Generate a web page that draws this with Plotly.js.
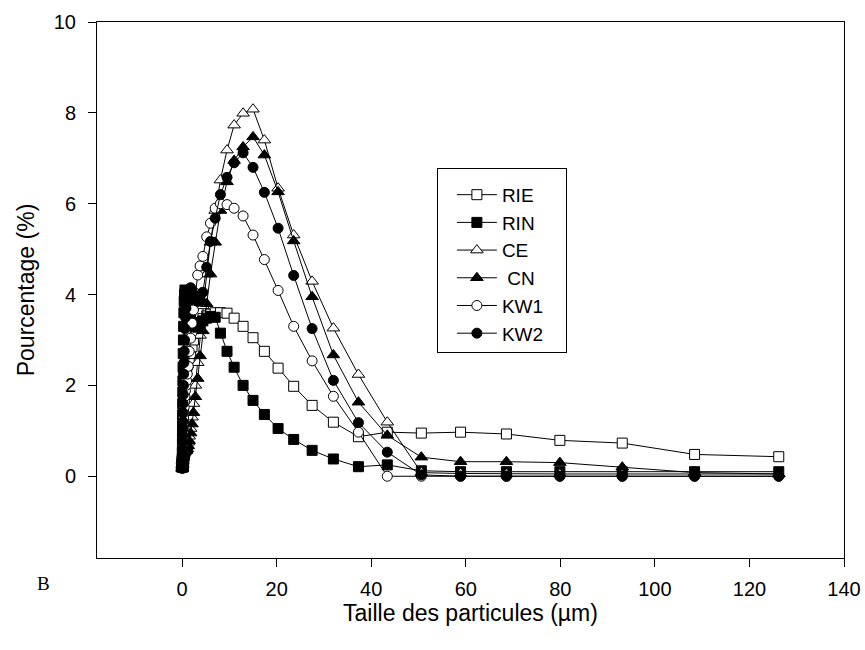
<!DOCTYPE html>
<html>
<head>
<meta charset="utf-8">
<script src="https://cdn.plot.ly/plotly-3.0.1.min.js"></script>
<style>html,body{margin:0;padding:0;background:#fff;}#chart{width:865px;height:650px;}</style>
</head>
<body>
<div id="chart"></div>
<script>
// Particle size bins (µm)
const sizes = [0.04,0.05,0.06,0.07,0.08,0.09,0.11,0.13,0.15,0.17,0.2,0.24,0.28,0.32,0.38,0.44,0.51,0.6,0.7,0.81,0.95,
  1.1,1.3,1.5,1.8,2.1,2.4,2.8,3.3,3.8,4.4,5.2,6.0,7.0,8.1,9.5,11.0,12.9,15.0,17.4,20.3,23.6,27.5,32.0,37.3,43.4,
  50.6,58.9,68.6,79.9,93.1,108.4,126.2];

const RIE = [0.2,0.3,0.4,0.5,0.6,0.7,0.8,0.9,1.0,1.1,1.25,1.4,1.55,1.7,1.85,2.0,2.1,2.2,2.3,2.35,2.4,
  2.45,2.5,2.6,2.7,2.85,3.0,3.15,3.28,3.38,3.47,3.53,3.57,3.6,3.6,3.59,3.48,3.3,3.05,2.75,2.38,1.98,1.56,1.19,0.87,0.97,
  0.95,0.97,0.93,0.79,0.73,0.48,0.43];

const RIN = [0.2,0.35,0.5,0.7,0.9,1.1,1.35,1.6,1.85,2.1,2.4,2.7,3.0,3.3,3.6,3.85,4.0,4.1,4.05,3.95,3.85,
  3.75,3.65,3.55,3.45,3.38,3.33,3.3,3.3,3.35,3.42,3.48,3.52,3.5,3.15,2.75,2.4,2.0,1.67,1.36,1.05,0.81,0.57,0.38,0.21,0.25,
  0.12,0.1,0.1,0.1,0.1,0.1,0.1];

const CE = [0.18,0.2,0.22,0.25,0.28,0.31,0.34,0.37,0.4,0.43,0.46,0.49,0.52,0.55,0.58,0.6,0.62,0.63,0.64,0.64,0.65,
  0.68,0.75,0.88,1.05,1.3,1.6,2.0,2.5,3.1,3.75,4.45,5.15,5.85,6.52,7.18,7.73,7.99,8.08,7.4,6.34,5.31,4.29,3.26,2.24,1.19,
  0.08,0.06,0.05,0.05,0.05,0.05,0.05];

const CN = [0.16,0.18,0.2,0.22,0.25,0.28,0.31,0.34,0.37,0.4,0.42,0.44,0.46,0.48,0.5,0.52,0.53,0.54,0.55,0.56,0.57,
  0.6,0.67,0.78,0.95,1.15,1.4,1.75,2.15,2.65,3.2,3.8,4.45,5.15,5.85,6.48,6.95,7.25,7.47,7.07,6.26,5.18,3.95,2.67,1.63,0.9,
  0.42,0.32,0.32,0.3,0.2,0.08,0.05];

const KW1 = [0.2,0.25,0.3,0.36,0.42,0.5,0.58,0.67,0.76,0.86,0.96,1.06,1.17,1.28,1.4,1.52,1.64,1.76,1.88,2.0,2.1,
  2.25,2.42,2.75,3.04,3.37,3.66,4.03,4.43,4.63,4.84,5.27,5.57,5.9,6.0,5.98,5.9,5.73,5.31,4.77,4.09,3.3,2.54,1.76,0.97,0.0,
  0.0,0.0,0.0,0.0,0.0,0.0,0.0];

const KW2 = [0.17,0.25,0.35,0.47,0.6,0.75,0.9,1.05,1.2,1.4,1.6,1.8,2.0,2.25,2.5,2.75,3.0,3.25,3.5,3.7,3.85,
  3.97,4.05,4.12,4.15,4.1,4.0,3.9,3.85,3.9,4.05,4.6,5.17,5.68,6.2,6.58,6.9,7.12,6.8,6.25,5.46,4.42,3.25,2.11,1.18,0.53,
  0.03,0.0,0.0,0.0,0.0,0.0,0.0];

const seriesNames = ['RIE\u00a0\u00a0\u00a0\u00a0\u00a0','RIN','CE',' CN','KW1','KW2'];
const seriesData = [RIE, RIN, CE, CN, KW1, KW2];
const symbols = ['square','square','triangle-up','triangle-up','circle','circle'];
const fills = ['white','black','white','black','white','black'];

const xTicks = [0,20,40,60,80,100,120,140];
const yTicks = [0,2,4,6,8,10];

const traces = seriesData.map((ys, i) => ({
  type: 'scatter',
  mode: 'lines+markers',
  x: sizes,
  y: ys,
  name: seriesNames[i],
  legendgroup: 'g' + i,
  line: {color: 'black', width: 1},
  marker: {symbol: symbols[i], size: symbols[i]==='triangle-up' ? 11 : 10, color: fills[i], line: {color: 'black', width: 1}}
}));

const fontFam = '"Liberation Sans", Arial, sans-serif';

const layout = {
  width: 865, height: 650,
  margin: {l: 97, r: 21, t: 22, b: 92},
  paper_bgcolor: 'white', plot_bgcolor: 'white',
  font: {family: fontFam, color: 'black', size: 19},
  showlegend: true,
  legend: {
    x: 0.455, y: 0.727, xanchor: 'left', yanchor: 'top',
    bordercolor: 'black', borderwidth: 1, bgcolor: 'white',
    font: {family: fontFam, size: 19, color: 'black'},
    title: {text: ' ', font: {size: 5}},
    indentation: 14,
    itemwidth: 40,
    tracegroupgap: 0
  },
  xaxis: {
    range: [-18, 140], tickvals: xTicks, ticktext: xTicks.map(String),
    ticks: 'outside', ticklen: 8, tickcolor: 'black', tickwidth: 1,
    showline: true, linecolor: 'black', linewidth: 1, mirror: true,
    showgrid: false, zeroline: false, ticklabelstandoff: 5,
    tickfont: {family: fontFam, size: 20, color: 'black'},
    title: {text: 'Taille des particules (µm)', font: {family: fontFam, size: 23, color: 'black'}, standoff: 0}
  },
  yaxis: {
    range: [-1.8, 10], tickvals: yTicks, ticktext: yTicks.map(String),
    ticks: 'outside', ticklen: 8, tickcolor: 'black', tickwidth: 1,
    showline: true, linecolor: 'black', linewidth: 1, mirror: true,
    showgrid: false, zeroline: false, ticklabelstandoff: 8,
    tickfont: {family: fontFam, size: 20, color: 'black'},
    title: {text: 'Pourcentage (%)', font: {family: fontFam, size: 23, color: 'black'}, standoff: 12}
  },
  annotations: [{
    text: 'B', xref: 'paper', yref: 'paper', x: -0.072, y: -0.048,
    xanchor: 'center', yanchor: 'middle', showarrow: false,
    font: {family: '"Liberation Serif", "Times New Roman", serif', size: 19, color: 'black'}
  }]
};

Plotly.newPlot('chart', traces, layout, {displayModeBar: false, staticPlot: true});
</script>
</body>
</html>
